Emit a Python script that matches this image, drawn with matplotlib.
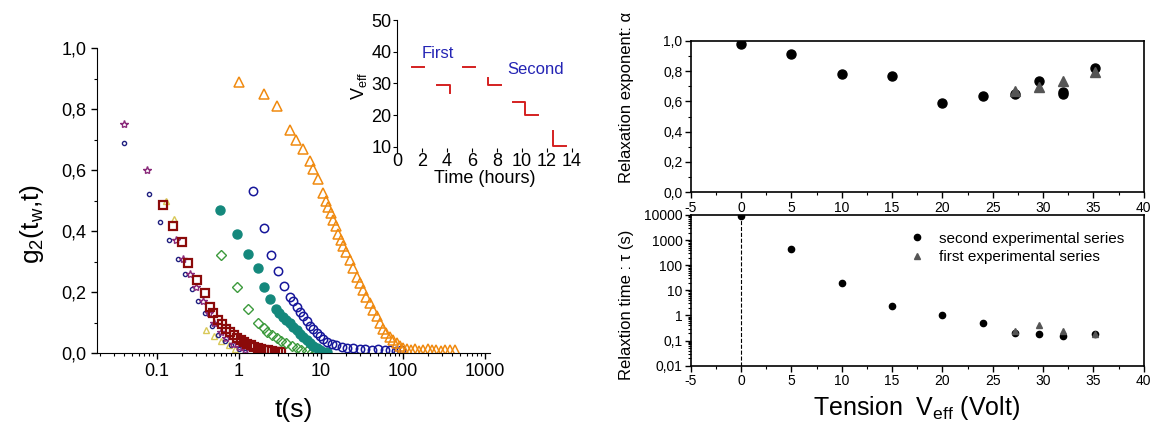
import numpy as np
import matplotlib
matplotlib.use("Agg")
import matplotlib.pyplot as plt
from matplotlib.ticker import FuncFormatter, MultipleLocator, FixedLocator, LogLocator, NullFormatter

plt.rcParams['font.family'] = ['Liberation Sans', 'DejaVu Sans']
plt.rcParams['mathtext.default'] = 'regular'
plt.rcParams['axes.unicode_minus'] = False

# ---- left panel: g2(tw, t) correlation curves ----
t_orange = [1.0, 2.0, 2.9, 4.2, 5.0, 6.1, 7.3, 8.1, 9.3, 10.7, 11.5, 12.3, 13.2, 14.1, 15.2,
            16.3, 17.5, 18.7, 20.5, 22.6, 24.8, 27.2, 30.0, 32.8, 36.0, 39.7, 43.5, 47.9, 52.5,
            57.6, 63.0, 69.5, 76.0, 83.7, 92, 101, 112, 125, 140, 158, 178, 200, 225, 255, 290,
            330, 380, 430]
g_orange = [0.89, 0.85, 0.81, 0.73, 0.70, 0.67, 0.63, 0.605, 0.57, 0.525, 0.50, 0.48, 0.46, 0.435,
            0.415, 0.39, 0.37, 0.35, 0.33, 0.305, 0.28, 0.25, 0.23, 0.207, 0.185, 0.163, 0.14, 0.12,
            0.10, 0.08, 0.065, 0.053, 0.042, 0.032, 0.022, 0.015, 0.012, 0.010, 0.012, 0.008, 0.010,
            0.012, 0.009, 0.011, 0.008, 0.010, 0.009, 0.010]

t_navy = [1.5, 2.0, 2.45, 3.0, 3.6, 4.2, 4.6, 5.05, 5.5, 6.1, 6.7, 7.3, 8.0, 8.85, 9.7, 10.7, 12,
          13.5, 15.5, 18, 21, 25, 30, 35, 42, 50, 60, 70, 82, 95]
g_navy = [0.53, 0.41, 0.32, 0.27, 0.22, 0.185, 0.17, 0.152, 0.135, 0.12, 0.105, 0.09, 0.078, 0.067,
          0.055, 0.045, 0.036, 0.03, 0.025, 0.02, 0.017, 0.015, 0.012, 0.014, 0.01, 0.012, 0.009,
          0.011, 0.008, 0.01]

t_teal = [0.59, 0.95, 1.3, 1.7, 2.05, 2.4, 2.85, 3.1, 3.45, 3.8, 4.2, 4.6, 5.05, 5.5, 6.1, 6.7,
          7.35, 8.1, 8.85, 9.7, 10.7, 11.8]
g_teal = [0.47, 0.39, 0.325, 0.28, 0.215, 0.178, 0.145, 0.13, 0.119, 0.108, 0.097, 0.086, 0.075,
          0.064, 0.053, 0.042, 0.032, 0.023, 0.015, 0.009, 0.004, 0.002]

t_green = [0.6, 0.94, 1.3, 1.72, 2.0, 2.2, 2.5, 2.9, 3.3, 3.8, 4.4, 5.05, 5.8, 6.7, 7.7, 8.85]
g_green = [0.32, 0.215, 0.143, 0.097, 0.082, 0.07, 0.058, 0.048, 0.04, 0.032, 0.023, 0.015, 0.011,
           0.007, 0.004, 0.002]

t_red = [0.12, 0.158, 0.2, 0.24, 0.305, 0.385, 0.44, 0.49, 0.56, 0.62, 0.7, 0.78, 0.86, 0.95, 1.05,
         1.15, 1.27, 1.4, 1.55, 1.7, 1.88, 2.05, 2.25, 2.5, 2.75, 3.0, 3.3]
g_red = [0.485, 0.415, 0.365, 0.295, 0.24, 0.196, 0.15, 0.13, 0.11, 0.095, 0.08, 0.07, 0.06, 0.05,
         0.043, 0.036, 0.03, 0.025, 0.02, 0.017, 0.014, 0.011, 0.009, 0.007, 0.005, 0.004, 0.002]

t_purple = [0.04, 0.075, 0.17, 0.21, 0.25, 0.3, 0.36, 0.43, 0.5, 0.6, 0.7, 0.85, 1.0, 1.2]
g_purple = [0.75, 0.60, 0.37, 0.31, 0.26, 0.215, 0.17, 0.13, 0.10, 0.07, 0.05, 0.03, 0.02, 0.01]

t_dots = [0.04, 0.08, 0.11, 0.14, 0.18, 0.22, 0.27, 0.32, 0.39, 0.47, 0.56, 0.67, 0.8, 1.0, 1.2]
g_dots = [0.69, 0.52, 0.43, 0.37, 0.31, 0.26, 0.21, 0.17, 0.13, 0.09, 0.06, 0.04, 0.025, 0.012, 0.005]

t_yellow = [0.13, 0.16, 0.4, 0.5, 0.6, 0.75, 0.9]
g_yellow = [0.50, 0.44, 0.075, 0.055, 0.04, 0.025, 0.012]

# inset: applied voltage steps vs time
step_t = [[1.2, 2.2], [3.2, 4.2, 4.2], [5.25, 6.25], [7.25, 7.25, 8.3],
          [9.3, 10.25, 10.25, 11.3], [12.45, 12.45, 13.5]]
step_v = [[35.3, 35.3], [29.5, 29.5, 27.1], [35.3, 35.3], [31.8, 29.5, 29.5],
          [24.0, 24.0, 20.1, 20.1], [15.1, 10.1, 10.1]]

# ---- right panels ----
v_second = [0, 5, 10, 15, 20, 24, 27.2, 29.6, 32, 32, 35.2]
alpha_second = [0.978, 0.91, 0.778, 0.77, 0.59, 0.637, 0.648, 0.734, 0.648, 0.664, 0.822]
v_first = [27.2, 29.6, 32, 35.2]
alpha_first = [0.668, 0.697, 0.734, 0.792]

tv_second = [0, 5, 10, 15, 20, 24, 27.2, 29.6, 32, 35.2]
tau_second = [9000, 440, 19, 2.37, 1.07, 0.48, 0.20, 0.18, 0.158, 0.18]
tau_first = [0.23, 0.40, 0.24, 0.178]

fig = plt.figure(figsize=(11.52, 4.29), dpi=100)

comma1 = FuncFormatter(lambda v, p: f'{v:.1f}'.replace('.', ','))

# left main axes
ax = fig.add_axes([0.0842, 0.177, 0.341, 0.711])
ax.set_xscale('log')
ax.plot(t_yellow, g_yellow, '^', ms=5, mfc='none', mec='#d8c858', mew=1)
ax.plot(t_dots, g_dots, 'o', ms=3, mfc='none', mec='#202080', mew=1)
ax.plot(t_purple, g_purple, '*', ms=6, mfc='none', mec='#8a2a7a', mew=1)
ax.plot(t_red, g_red, 's', ms=6, mfc='none', mec='#8b0a0a', mew=1.6)
ax.plot(t_green, g_green, 'D', ms=5, mfc='none', mec='#3c9a3c', mew=1)
ax.plot(t_teal, g_teal, 'o', ms=6.5, mfc='#14887c', mec='#14887c')
ax.plot(t_navy, g_navy, 'o', ms=6, mfc='none', mec='#16169a', mew=1.1)
ax.plot(t_orange, g_orange, '^', ms=7.5, mfc='none', mec='#f08a10', mew=1.1)
ax.set_xlim(0.0186, 1150)
ax.set_ylim(0, 1.0)
ax.spines['top'].set_visible(False)
ax.spines['right'].set_visible(False)
ax.xaxis.set_major_locator(FixedLocator([0.1, 1, 10, 100, 1000]))
ax.xaxis.set_major_formatter(FuncFormatter(lambda v, p: f'{v:g}'))
ax.xaxis.set_minor_locator(LogLocator(base=10, subs=np.arange(2, 10)))
ax.xaxis.set_minor_formatter(NullFormatter())
ax.yaxis.set_major_locator(MultipleLocator(0.2))
ax.yaxis.set_minor_locator(MultipleLocator(0.1))
ax.yaxis.set_major_formatter(comma1)
ax.tick_params(which='major', length=4, width=1, labelsize=13)
ax.tick_params(which='minor', length=2.5, width=0.8)
fig.text(0.028, 0.478, 'g$_2$(t$_w$,t)', rotation=90, ha='center', va='center', fontsize=19)
fig.text(0.255, 0.044, 't(s)', ha='center', va='center', fontsize=19)

# inset
ins = fig.add_axes([0.3446, 0.646, 0.152, 0.307])
ins.patch.set_alpha(0)
for tt, vv in zip(step_t, step_v):
    ins.plot(tt, vv, color='#d42020', lw=1.4)
ins.set_xlim(0, 14)
ins.set_ylim(8.4, 50)
for s in ['top', 'right', 'bottom']:
    ins.spines[s].set_visible(False)
ins.set_xticks(range(0, 15, 2))
ins.set_yticks([10, 20, 30, 40, 50])
ins.tick_params(axis='both', length=3, labelsize=13, pad=1)
ins.tick_params(axis='x', direction='in')
ins.text(2.0, 39.6, 'First', color='#2424b4', fontsize=12, va='center', ha='left')
ins.text(8.8, 34.3, 'Second', color='#2424b4', fontsize=12, va='center', ha='left')
ins.set_xlabel('Time (hours)', fontsize=13, labelpad=0)
ins.set_ylabel('V$_{eff}$', fontsize=13, labelpad=2)

# right top: relaxation exponent
ax1 = fig.add_axes([0.5996, 0.5517, 0.3932, 0.3534])
ax1.plot(v_second, alpha_second, 'o', ms=6.5, color='black')
ax1.plot(v_first, alpha_first, '^', ms=7, color='#555555')
ax1.set_xlim(-5, 40)
ax1.set_ylim(0, 1.0)
ax1.xaxis.set_major_locator(MultipleLocator(5))
ax1.xaxis.set_minor_locator(MultipleLocator(2.5))
ax1.yaxis.set_major_locator(MultipleLocator(0.2))
ax1.yaxis.set_minor_locator(MultipleLocator(0.1))
ax1.yaxis.set_major_formatter(comma1)
ax1.tick_params(which='major', length=4, width=1, labelsize=10, pad=2)
ax1.tick_params(which='minor', length=2.5, width=0.8)
for s in ax1.spines.values():
    s.set_linewidth(1.2)
fig.text(0.544, 0.772, 'Relaxation exponent: α', rotation=90, ha='center', va='center', fontsize=12)

# right bottom: relaxation time
ax2 = fig.add_axes([0.5996, 0.1476, 0.3932, 0.3513])
ax2.axvline(0, ls='--', lw=0.8, color='black')
ax2.plot(tv_second, tau_second, 'o', ms=4.5, color='black', label='second experimental series')
ax2.plot(v_first, tau_first, '^', ms=5, color='#555555', label='first experimental series')
ax2.set_yscale('log')
ax2.set_xlim(-5, 40)
ax2.set_ylim(0.01, 10000)
ax2.xaxis.set_major_locator(MultipleLocator(5))
ax2.xaxis.set_minor_locator(MultipleLocator(2.5))
ax2.yaxis.set_major_locator(LogLocator(base=10, numticks=10))
ax2.yaxis.set_minor_locator(LogLocator(base=10, subs=np.arange(2, 10), numticks=20))
ax2.yaxis.set_minor_formatter(NullFormatter())
ax2.yaxis.set_major_formatter(FuncFormatter(lambda v, p: f'{v:g}'.replace('.', ',')))
ax2.tick_params(which='major', length=4, width=1, labelsize=10, pad=2)
ax2.tick_params(which='minor', length=2.5, width=0.8)
for s in ax2.spines.values():
    s.set_linewidth(1.2)
ax2.legend(loc='upper left', bbox_to_anchor=(0.45, 0.98), frameon=False, fontsize=11,
           handletextpad=0.8, labelspacing=0.3, handlelength=1.2)
fig.text(0.544, 0.29, 'Relaxtion time : τ (s)', rotation=90, ha='center', va='center', fontsize=12)
fig.text(0.796, 0.05, 'Tension  V$_{eff}$ (Volt)', ha='center', va='center', fontsize=18)

fig.savefig('out.png', dpi=100)
